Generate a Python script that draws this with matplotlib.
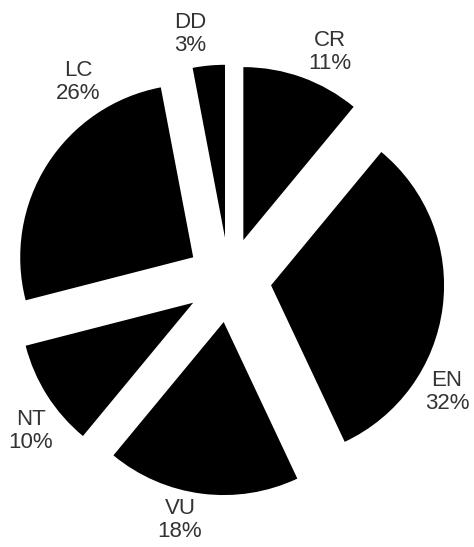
import matplotlib.pyplot as plt

# IUCN category shares, clockwise from 12 o'clock
categories = ["CR", "EN", "VU", "NT", "LC", "DD"]
shares = [11, 32, 18, 10, 26, 3]

# label anchor points (pixel coords, y up)
label_pos = [(330, 495), (447, 155), (180, 27), (31, 116), (78, 465), (190, 513)]

W, H = 474, 547
R = 173
fig = plt.figure(figsize=(W / 100, H / 100), dpi=100)
ax = fig.add_axes([0, 0, 1, 1])

# explode is in data units, so scale it by the radius
ax.pie(shares, colors=["black"] * len(shares), explode=[0.245 * R] * len(shares),
       startangle=90, counterclock=False, center=(229, H - 280), radius=R,
       wedgeprops=dict(linewidth=0))

# pie() resets the limits, so pin them to pixel units afterwards
ax.set_xlim(0, W)
ax.set_ylim(0, H)
ax.set_aspect("equal")
ax.axis("off")

for name, val, (x, y) in zip(categories, shares, label_pos):
    ax.text(x, y, f"{name}\n{val}%", ha="center", va="center", ma="center",
            fontsize=16, color="#333333", family="Liberation Sans", linespacing=1.15)

plt.savefig("out.png", dpi=100)
